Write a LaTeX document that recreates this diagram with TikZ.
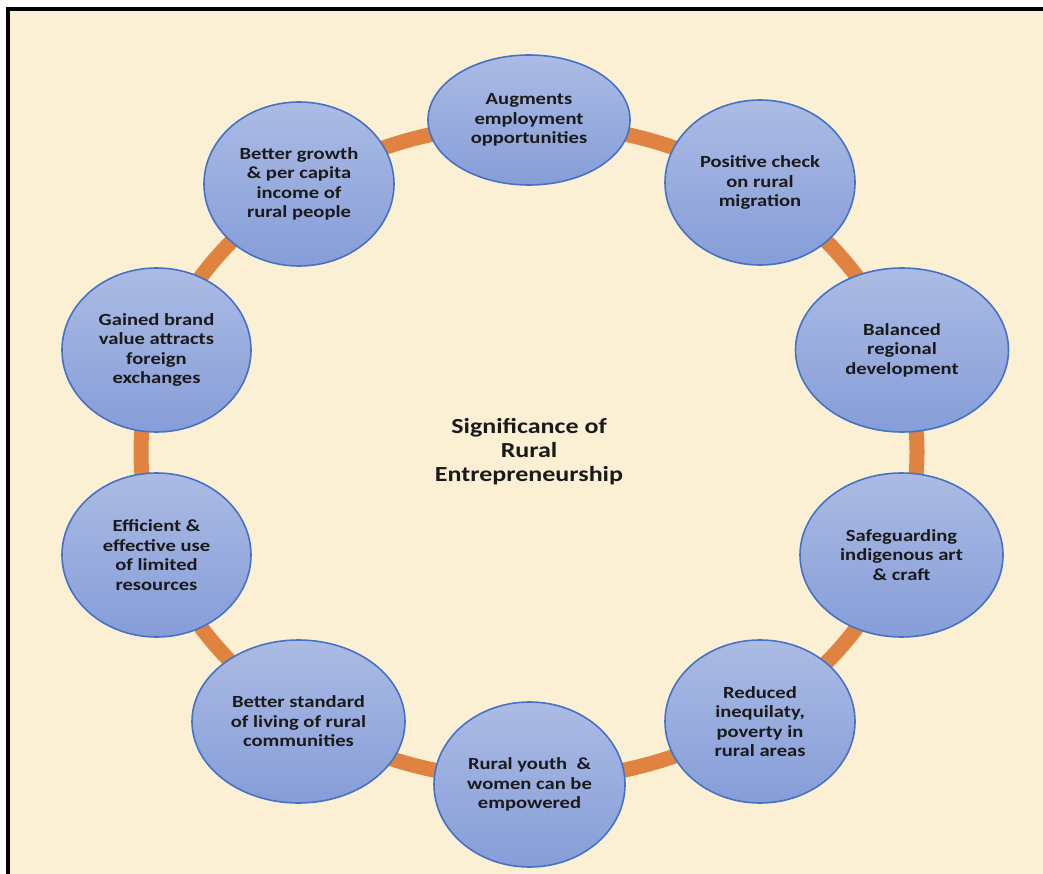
\documentclass[tikz,border=0pt]{standalone}
\usepackage{fontspec}
\setmainfont{Carlito}[FakeStretch=1.21]
\usetikzlibrary{shapes.geometric}
\definecolor{cream}{RGB}{252,240,212}
\definecolor{ringorange}{RGB}{224,130,64}
\definecolor{bubtop}{RGB}{171,187,228}
\definecolor{bubbot}{RGB}{134,157,216}
\definecolor{bubedge}{RGB}{68,114,196}
\definecolor{txt}{RGB}{26,26,26}
\tikzset{
  bub/.style={ellipse, draw=bubedge, line width=1.6pt, top color=bubtop, bottom color=bubbot, inner sep=0pt},
  lbl/.style={align=center, text=txt, font=\bfseries\fontsize{17pt}{19.5pt}\selectfont, inner sep=0pt},
  ttl/.style={align=center, text=txt, font=\bfseries\fontsize{21.5pt}{24pt}\selectfont, inner sep=0pt}
}
\begin{document}
\begin{tikzpicture}[x=1pt,y=-1pt]
\useasboundingbox (0,0) rectangle (1043,874);
\fill[white] (0,0) rectangle (1043,874);
\fill[cream] (8,9.5) rectangle (1050,880);
\draw[black, line width=4pt] (8,880) -- (8,9.5) -- (1050,9.5);
\draw[ringorange, line width=15pt] (529,452) ellipse [x radius=388, y radius=328];
\node[bub, minimum width=202pt, minimum height=130pt] (b1) at (529,120) {};
\node[bub, minimum width=190pt, minimum height=165pt] (b2) at (760,182.5) {};
\node[bub, minimum width=213pt, minimum height=164pt] (b3) at (902,350) {};
\node[bub, minimum width=203pt, minimum height=164pt] (b4) at (901.5,555) {};
\node[bub, minimum width=190pt, minimum height=163pt] (b5) at (760,721.5) {};
\node[bub, minimum width=191pt, minimum height=165pt] (b6) at (529.5,784.5) {};
\node[bub, minimum width=213pt, minimum height=163pt] (b7) at (298.5,721.5) {};
\node[bub, minimum width=189pt, minimum height=164pt] (b8) at (156.5,555) {};
\node[bub, minimum width=189pt, minimum height=164pt] (b9) at (156.5,350) {};
\node[bub, minimum width=190pt, minimum height=164pt] (b10) at (299,184) {};
\node[lbl] (t1) at (b1) {Augments\\employment\\opportunities};
\node[lbl] (t2) at (b2) {Positive check\\on rural\\migration};
\node[lbl] (t3) at (b3) {Balanced\\regional\\development};
\node[lbl] (t4) at (b4) {Safeguarding\\indigenous art\\\& craft};
\node[lbl] (t5) at (b5) {Reduced\\inequilaty,\\poverty in\\rural areas};
\node[lbl] (t6) at (b6) {Rural youth\ \ \&\\women can be\\empowered};
\node[lbl] (t7) at (b7) {Better standard\\of living of rural\\communities};
\node[lbl] (t8) at (b8) {Efficient \&\\effective use\\of limited\\resources};
\node[lbl] (t9) at (b9) {Gained brand\\value attracts\\foreign\\exchanges};
\node[lbl] (t10) at (b10) {Better growth\\\& per capita\\income of\\rural people};
\node[ttl] (title) at (529,452) {Significance of\\Rural\\Entrepreneurship};
\end{tikzpicture}
\end{document}
